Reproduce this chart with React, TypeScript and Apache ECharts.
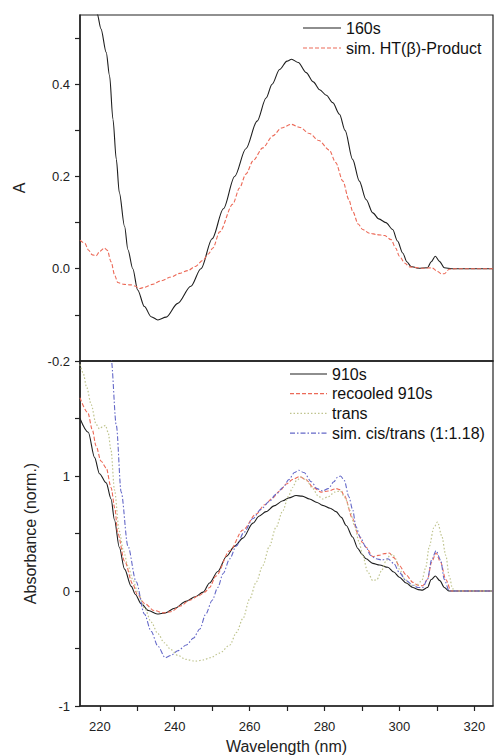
import React, { useEffect, useRef } from "react";
import * as echarts from "echarts";

// ---- top panel: 160s and simulated HT(beta)-Product ----
const wl160 = [214.7, 217, 219.3, 220.3, 221.7, 222.6, 223.5, 224.4, 225.2, 226.6, 227.5, 228.8, 230.1, 231.9, 233.7, 235.5, 237.7, 240.8, 244.3, 247, 250, 253, 256, 259, 262, 264.4, 266, 268, 270, 271.2, 273, 275.1, 277, 278.7, 280.5, 282.2, 284, 285.5, 287.5, 289.3, 291.1, 292.9, 294.5, 296.4, 298.2, 299.5, 300.9, 302, 303.1, 305, 307.5, 308.5, 309.6, 310.7, 312, 314, 325];
const a160 = [0.95, 0.75, 0.552, 0.52, 0.469, 0.418, 0.324, 0.237, 0.165, 0.092, 0.041, 0.0, -0.046, -0.082, -0.104, -0.111, -0.105, -0.075, -0.038, 0.0, 0.065, 0.13, 0.2, 0.26, 0.32, 0.37, 0.4, 0.432, 0.45, 0.454, 0.447, 0.425, 0.405, 0.388, 0.376, 0.36, 0.335, 0.3, 0.237, 0.19, 0.15, 0.121, 0.108, 0.1, 0.085, 0.06, 0.034, 0.015, 0.005, 0.001, 0.002, 0.015, 0.027, 0.016, 0.002, 0.0, 0.0];

const wlSimHT = [214.7, 216, 217, 218, 219, 220, 221.2, 222, 223, 224, 224.8, 226.5, 228.4, 229.5, 230.6, 232, 234, 236.4, 239, 241.3, 243.5, 245.5, 247.5, 249, 250.2, 252, 255.5, 257.3, 259, 261, 263.5, 266.2, 268.5, 271.1, 273.5, 276, 278.5, 281.3, 283, 284.9, 286.5, 287.5, 289, 290.2, 292, 294, 296, 297.8, 299, 300, 301.5, 302.7, 306.2, 308.7, 310.2, 311.2, 312, 313.3, 315, 325];
const aSimHT = [0.062, 0.055, 0.04, 0.03, 0.028, 0.038, 0.045, 0.04, 0.015, -0.015, -0.03, -0.034, -0.035, -0.038, -0.043, -0.04, -0.034, -0.026, -0.018, -0.01, -0.004, 0.005, 0.018, 0.032, 0.045, 0.08, 0.14, 0.175, 0.205, 0.235, 0.262, 0.288, 0.305, 0.313, 0.306, 0.293, 0.278, 0.257, 0.23, 0.19, 0.15, 0.125, 0.097, 0.085, 0.077, 0.074, 0.072, 0.063, 0.045, 0.027, 0.012, 0.004, 0.001, 0.002, -0.006, -0.011, -0.011, -0.001, 0.0, 0.0];

// ---- bottom panel: normalized absorbance ----
const wl910 = [214.7, 216.9, 218.6, 219.9, 221.7, 223, 223.9, 225.2, 226.6, 228.4, 229.5, 231, 233, 235.3, 237.5, 240, 243, 245.5, 247.6, 249.3, 251.5, 253.8, 256, 258.2, 260.9, 262.5, 264.4, 266.5, 268.9, 270.5, 272.4, 274, 276, 278, 279.5, 281.5, 283.1, 284.5, 285.8, 287.5, 288.9, 290, 291.1, 292.9, 294.7, 296.9, 298.5, 300, 301.8, 303.6, 305, 306.2, 307.5, 308.5, 309.6, 310.8, 312, 313.3, 325];
const n910 = [1.5, 1.38, 1.16, 1.02, 0.94, 0.8, 0.62, 0.38, 0.19, 0.04, -0.03, -0.11, -0.17, -0.2, -0.19, -0.15, -0.09, -0.05, -0.01, 0.07, 0.17, 0.3, 0.39, 0.46, 0.59, 0.65, 0.69, 0.74, 0.785, 0.81, 0.83, 0.825, 0.8, 0.77, 0.745, 0.72, 0.69, 0.64, 0.57, 0.47, 0.37, 0.32, 0.28, 0.24, 0.226, 0.206, 0.165, 0.12, 0.07, 0.03, 0.012, 0.008, 0.03, 0.1, 0.13, 0.09, 0.03, 0.0, 0.0];

const wlRecooled = [214.7, 216.8, 218, 219, 220.3, 221.7, 223, 224, 224.8, 226.6, 228.8, 230, 232, 234.5, 237, 239, 241.5, 244, 246.5, 248, 249.3, 251, 254.7, 258.2, 261.8, 264, 266.2, 268, 269.8, 271.5, 273.3, 275, 277, 279.1, 281, 283.1, 284.3, 285.3, 287.5, 288.9, 290.2, 291.1, 292.9, 294.5, 296, 297.3, 298.5, 300, 301.8, 303.6, 305, 306.2, 307.5, 308.6, 309.8, 311, 312.4, 313.8, 325];
const nRecooled = [1.68, 1.55, 1.4, 1.26, 1.13, 1.07, 0.9, 0.72, 0.5, 0.26, 0.06, -0.03, -0.11, -0.17, -0.19, -0.18, -0.13, -0.08, -0.04, -0.01, 0.03, 0.13, 0.35, 0.53, 0.67, 0.75, 0.81, 0.87, 0.93, 0.97, 0.995, 0.97, 0.9, 0.86, 0.87, 0.89, 0.88, 0.83, 0.63, 0.5, 0.42, 0.38, 0.3, 0.31, 0.325, 0.33, 0.29, 0.22, 0.14, 0.075, 0.05, 0.046, 0.1, 0.25, 0.33, 0.25, 0.1, 0.0, 0.0];

const wlTrans = [214.7, 215.5, 216.5, 217.7, 219, 219.9, 220.8, 221.5, 222.2, 223, 223.9, 225.2, 226.3, 227.5, 228.8, 230.1, 232, 233.7, 235.5, 237.2, 239, 240.8, 243, 245.5, 247.5, 249.5, 252, 254.7, 256.5, 258.2, 260, 261.8, 263.5, 265.3, 267, 268.9, 270.3, 271.5, 272.5, 273.8, 275.2, 276.9, 278.2, 279.5, 281, 282.7, 284.2, 285.5, 286.8, 288, 289.2, 290.2, 291.5, 292.9, 294, 295.3, 296.4, 297.5, 298.2, 299, 300, 301.5, 303, 304.5, 306, 307, 308, 309.2, 310.2, 311.3, 312.4, 313.3, 314.2, 315, 325];
const nTrans = [1.97, 1.9, 1.77, 1.62, 1.45, 1.41, 1.43, 1.44, 1.38, 1.22, 0.88, 0.52, 0.35, 0.22, 0.1, -0.01, -0.15, -0.27, -0.37, -0.45, -0.51, -0.56, -0.595, -0.61, -0.6, -0.58, -0.54, -0.47, -0.36, -0.24, -0.07, 0.08, 0.22, 0.39, 0.55, 0.7, 0.82, 0.9, 0.96, 0.99, 0.96, 0.89, 0.83, 0.8, 0.82, 0.86, 0.87, 0.81, 0.7, 0.57, 0.43, 0.31, 0.17, 0.09, 0.1, 0.18, 0.26, 0.31, 0.32, 0.28, 0.19, 0.1, 0.05, 0.05, 0.09, 0.2, 0.39, 0.55, 0.6, 0.48, 0.31, 0.13, 0.02, 0.0, 0.0];

const wlSimCisTrans = [214.7, 218, 221, 223, 224.4, 225.7, 227.5, 229.7, 231.9, 233.7, 235.5, 237.5, 239, 240.8, 243.1, 245, 246.7, 248.3, 250, 251.5, 252.9, 254.7, 256.4, 258.5, 260.9, 263, 265.3, 267, 268.9, 270.5, 272, 273.1, 274.5, 276.5, 278, 279.5, 281, 282.5, 283.5, 284.3, 285.3, 286.5, 287.5, 288.4, 289.5, 291.1, 292.3, 293.8, 295.3, 296.9, 298.5, 300, 301.8, 303.6, 305, 306.2, 307.5, 308.6, 309.8, 311, 312, 313.3, 325];
const nSimCisTrans = [3.5, 3.0, 2.4, 2.02, 1.44, 0.86, 0.39, 0.08, -0.2, -0.35, -0.48, -0.58, -0.56, -0.52, -0.47, -0.41, -0.33, -0.2, -0.08, 0.03, 0.15, 0.28, 0.39, 0.51, 0.63, 0.71, 0.78, 0.84, 0.9, 0.97, 1.03, 1.05, 1.03, 0.95, 0.89, 0.87, 0.89, 0.95, 0.99, 1.0, 0.96, 0.82, 0.71, 0.56, 0.47, 0.38, 0.31, 0.28, 0.27, 0.28, 0.24, 0.16, 0.09, 0.05, 0.03, 0.03, 0.1, 0.27, 0.35, 0.27, 0.1, 0.0, 0.0];

const topLegend = ["160s", "sim. HT(β)-Product"];
const bottomLegend = ["910s", "recooled 910s", "trans", "sim. cis/trans (1:1.18)"];
const xTickLabels = [220, 240, 260, 280, 300, 320];

const zip = (xs: number[], ys: number[]) => xs.map((x, i) => [x, ys[i]]);

const FONT = "'Liberation Sans', Arial, Helvetica, sans-serif";
const X_MIN = 214.7;
const X_MAX = 325;

const BLACK = "#1e1e1e";
const RED = "#ec6a58";
const TRANS = "#bfc48e";
const BLUE = "#6468c8";
const RED_DASH = [4, 2];
const TRANS_DASH = [1.5, 2];
const BLUE_DASH = [5, 2, 1.5, 2];

export default function App() {
  const ref = useRef<HTMLDivElement>(null);
  useEffect(() => {
    if (!ref.current) return;
    const chart = echarts.init(ref.current, undefined, { renderer: "svg" });
    const axisLine = { show: true, onZero: false, lineStyle: { color: "#222", width: 1.5 } };
    const axisTick = { show: true, inside: false, length: 5, lineStyle: { color: "#222", width: 1.2 } };
    const lineSeries = (name: string, data: number[][], idx: number, color: string, type: any, width = 1.1) => ({
      name,
      type: "line",
      xAxisIndex: idx,
      yAxisIndex: idx,
      data,
      symbol: "none",
      smooth: 0.3,
      smoothMonotone: "x",
      clip: true,
      lineStyle: { color, width, type },
      itemStyle: { color },
    });

    // legend drawn as graphic elements (line sample + label)
    const legendItem = (label: string, color: string, dash: any, x: number, y: number, len: number) => ({
      type: "group",
      children: [
        {
          type: "line",
          shape: { x1: x, y1: y, x2: x + len, y2: y },
          style: { stroke: color, lineWidth: 1.2, lineDash: dash },
        },
        {
          type: "text",
          x: x + len + 5,
          y,
          style: { text: label, fill: "#111", fontSize: 16, fontFamily: FONT, verticalAlign: "middle", align: "left" },
        },
      ],
    });
    const topStyles = [[BLACK, null], [RED, RED_DASH]];
    const bottomStyles = [[BLACK, null], [RED, RED_DASH], [TRANS, TRANS_DASH], [BLUE, BLUE_DASH]];
    const graphics: any[] = [];
    topLegend.forEach((l, i) => graphics.push(legendItem(l, topStyles[i][0] as string, topStyles[i][1], 303, 28 + i * 20, 38)));
    bottomLegend.forEach((l, i) => graphics.push(legendItem(l, bottomStyles[i][0] as string, bottomStyles[i][1], 290, 374 + i * 19.7, 37)));

    const option: any = {
      animation: false,
      backgroundColor: "#fff",
      textStyle: { fontFamily: FONT },
      grid: [
        { left: 80, top: 15, width: 413, height: 346, show: true, borderColor: "#222", borderWidth: 1.2, backgroundColor: "transparent" },
        { left: 80, top: 361, width: 413, height: 346, show: true, borderColor: "#222", borderWidth: 1.2, backgroundColor: "transparent" },
      ],
      xAxis: [
        {
          gridIndex: 0, type: "value", min: X_MIN, max: X_MAX, splitNumber: 11,
          axisLine, axisTick: { show: false }, axisLabel: { show: false }, splitLine: { show: false },
        },
        {
          gridIndex: 1, type: "value", min: X_MIN, max: X_MAX, splitNumber: 11,
          axisLine, axisTick, splitLine: { show: false },
          axisLabel: {
            show: true, margin: 14, color: "#222", fontSize: 13, fontFamily: FONT,
            showMinLabel: false, showMaxLabel: false,
            formatter: (v: number) => (xTickLabels.indexOf(Math.round(v)) >= 0 && Math.abs(v - Math.round(v)) < 1e-6 ? String(Math.round(v)) : ""),
          },
          name: "Wavelength (nm)", nameLocation: "middle", nameGap: 32,
          nameTextStyle: { fontSize: 16, color: "#222", fontFamily: FONT },
        },
      ],
      yAxis: [
        {
          gridIndex: 0, type: "value", min: -0.2, max: 0.55, interval: 0.1,
          axisLine, axisTick, splitLine: { show: false },
          axisLabel: {
            show: true, margin: 10, color: "#222", fontSize: 13, fontFamily: FONT, showMaxLabel: false,
            formatter: (v: number) => {
              const r = Math.round(v * 10);
              if (Math.abs(v * 10 - r) > 1e-6 || r % 2 !== 0 || v > 0.45) return "";
              return (r / 10).toFixed(1);
            },
          },
          name: "A", nameLocation: "middle", nameGap: 53,
          nameTextStyle: { fontSize: 16, color: "#222", fontFamily: FONT },
        },
        {
          gridIndex: 1, type: "value", min: -1, max: 2, interval: 0.5,
          axisLine, axisTick, splitLine: { show: false },
          axisLabel: {
            show: true, margin: 10, color: "#222", fontSize: 13, fontFamily: FONT, showMaxLabel: false,
            formatter: (v: number) => (Number.isInteger(v) && v < 2 ? String(v) : ""),
          },
          name: "Absorbance (norm.)", nameLocation: "middle", nameGap: 42,
          nameTextStyle: { fontSize: 16, color: "#222", fontFamily: FONT },
        },
      ],
      graphic: graphics,
      series: [
        lineSeries(topLegend[0], zip(wl160, a160), 0, BLACK, "solid", 1.1),
        lineSeries(topLegend[1], zip(wlSimHT, aSimHT), 0, RED, RED_DASH, 1.1),
        lineSeries(bottomLegend[0], zip(wl910, n910), 1, BLACK, "solid", 1.1),
        lineSeries(bottomLegend[1], zip(wlRecooled, nRecooled), 1, RED, RED_DASH, 1.1),
        lineSeries(bottomLegend[2], zip(wlTrans, nTrans), 1, TRANS, TRANS_DASH, 1.2),
        lineSeries(bottomLegend[3], zip(wlSimCisTrans, nSimCisTrans), 1, BLUE, BLUE_DASH, 1.1),
      ],
    };
    chart.setOption(option);
    return () => chart.dispose();
  }, []);
  return <div ref={ref} style={{ width: 494, height: 755, position: "absolute", left: 0, top: 0 }} />;
}
